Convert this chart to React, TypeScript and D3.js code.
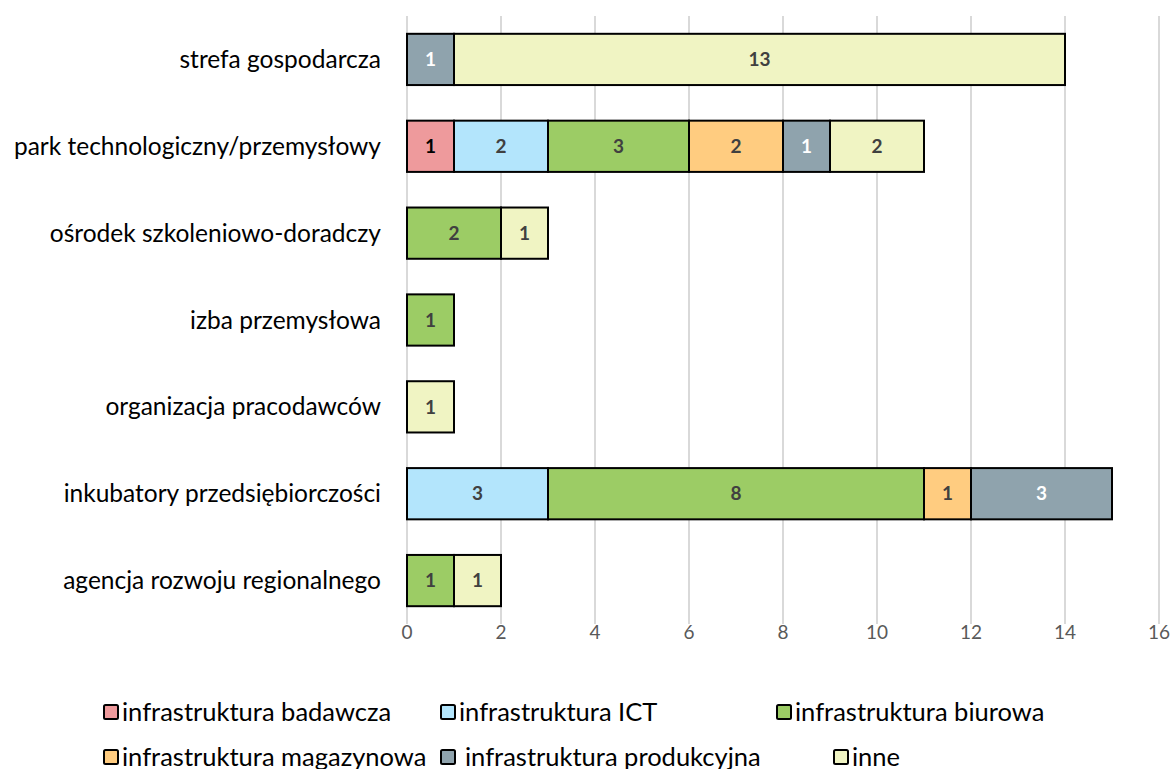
import React from "react";
import * as d3 from "d3";

const categories = [
  "strefa gospodarcza",
  "park technologiczny/przemysłowy",
  "ośrodek szkoleniowo-doradczy",
  "izba przemysłowa",
  "organizacja pracodawców",
  "inkubatory przedsiębiorczości",
  "agencja rozwoju regionalnego",
];
const seriesNames = [
  "infrastruktura badawcza",
  "infrastruktura ICT",
  "infrastruktura biurowa",
  "infrastruktura magazynowa",
  "infrastruktura produkcyjna",
  "inne",
];
const badawcza = [0, 1, 0, 0, 0, 0, 0];
const ict = [0, 2, 0, 0, 0, 3, 0];
const biurowa = [0, 3, 2, 1, 0, 8, 1];
const magazynowa = [0, 2, 0, 0, 0, 1, 0];
const produkcyjna = [1, 1, 0, 0, 0, 3, 0];
const inne = [13, 2, 1, 0, 1, 0, 1];
const xTicks = [0, 2, 4, 6, 8, 10, 12, 14, 16];

const seriesValues = [badawcza, ict, biurowa, magazynowa, produkcyjna, inne];
const colors = ["#EE9A9C", "#B3E5FC", "#9CCC65", "#FFCC80", "#8FA3AD", "#F0F4C3"];
const labelColors = ["#000000", "#404040", "#404040", "#404040", "#FFFFFF", "#404040"];

const W = 1176;
const H = 769;
const FONT = "Lato, 'Open Sans', sans-serif";

export default function App() {
  const x = d3.scaleLinear().domain([0, 16]).range([407, 1159]);
  const y = d3.scaleBand<string>().domain(categories).range([16, 624]).paddingInner(0.41).paddingOuter(0.205);

  const rows = categories.map((c, i) => {
    let acc = 0;
    return seriesValues.map((vals, s) => {
      const v = vals[i];
      const x0 = acc;
      acc += v;
      return { c, s, v, x0, x1: acc };
    }).filter((d) => d.v > 0);
  });

  const legendItems = [
    { s: 0, x: 104, y: 705 },
    { s: 1, x: 441, y: 705 },
    { s: 2, x: 777, y: 705 },
    { s: 3, x: 104, y: 750 },
    { s: 4, x: 441, y: 750, gap: 6 },
    { s: 5, x: 834, y: 750 },
  ];

  return (
    <svg width={W} height={H} style={{ position: "absolute", left: 0, top: 0, background: "#fff" }} fontFamily={FONT}>
      {xTicks.map((t) => (
        <g key={t}>
          <line x1={x(t)} x2={x(t)} y1={16} y2={624} stroke="#D9D9D9" strokeWidth={2} />
          <text x={x(t)} y={639} textAnchor="middle" fontSize={19} fill="#595959">{t}</text>
        </g>
      ))}
      {categories.map((c) => (
        <text key={c} x={381} y={(y(c) as number) + y.bandwidth() / 2} dy="0.35em" textAnchor="end" fontSize={24.5} fill="#000">{c}</text>
      ))}
      {rows.map((segs, i) =>
        segs.map((d) => {
          const yy = y(d.c) as number;
          return (
            <g key={`${i}-${d.s}`}>
              <rect x={x(d.x0)} y={yy} width={x(d.x1) - x(d.x0)} height={y.bandwidth()} fill={colors[d.s]} stroke="#000" strokeWidth={2} />
              <text x={(x(d.x0) + x(d.x1)) / 2} y={yy + y.bandwidth() / 2} dy="0.35em" textAnchor="middle" fontSize={19} fontWeight="bold" fill={labelColors[d.s]}>{d.v}</text>
            </g>
          );
        })
      )}
      {legendItems.map((l) => (
        <g key={l.s}>
          <rect x={l.x} y={l.y} width={14} height={14} rx={1.5} fill={colors[l.s]} stroke="#000" strokeWidth={2} />
          <text x={l.x + 18 + (l.gap || 0)} y={l.y + 7} dy="0.35em" fontSize={25.5} fill="#000">{seriesNames[l.s]}</text>
        </g>
      ))}
    </svg>
  );
}
